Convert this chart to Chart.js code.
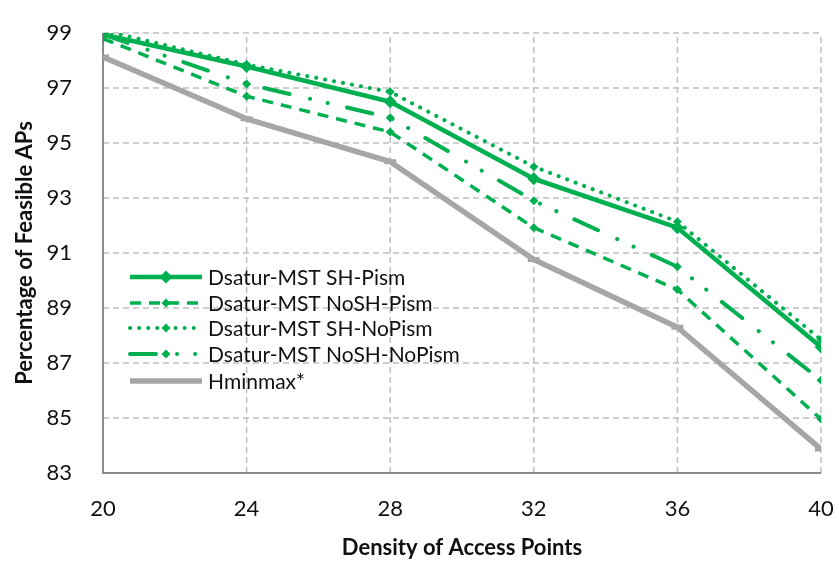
<!DOCTYPE html>
<html>
<head>
<meta charset="utf-8">
<script src="https://cdn.jsdelivr.net/npm/chart.js@4"></script>
<style>
  html, body { margin: 0; padding: 0; background: #ffffff; }
  #wrap { width: 839px; height: 567px; }
</style>
</head>
<body>
<div id="wrap"><canvas id="c" width="839" height="567"></canvas></div>
<script>
// Access-point density on the x axis
const densities = [20, 24, 28, 32, 36, 40];

// Percentage of feasible APs for each method
const shPism      = [98.95, 97.78, 96.50, 93.70, 91.92, 87.58];
const noshPism    = [98.80, 96.70, 95.40, 91.92, 89.67, 84.96];
const shNoPism    = [99.10, 97.85, 96.86, 94.14, 92.14, 87.85];
const noshNoPism  = [98.95, 97.15, 95.92, 92.90, 90.50, 86.37];
const hminmax     = [98.13, 95.88, 94.32, 90.76, 88.30, 83.87];

const seriesNames = [
  'Dsatur-MST SH-Pism',
  'Dsatur-MST NoSH-Pism',
  'Dsatur-MST SH-NoPism',
  'Dsatur-MST NoSH-NoPism',
  'Hminmax*'
];

// Axis ticks
const xTicks = [20, 24, 28, 32, 36, 40];
const yTicks = [83, 85, 87, 89, 91, 93, 95, 97, 99];

const GREEN = '#00B050';
const GREY = '#A6A6A6';
const FONT = 'Lato, "Open Sans", sans-serif';
const TEXT = '#111111';
const GRID_DASH = [6, 4];

const toPoints = vals => vals.map((v, i) => ({ x: densities[i], y: v }));

const datasets = [
  {
    label: seriesNames[0], data: toPoints(shPism),
    borderColor: GREEN, backgroundColor: GREEN, borderWidth: 4.5,
    pointStyle: 'rectRot', pointRadius: 6.5, pointBorderWidth: 0, borderDash: [],
    borderCapStyle: 'butt'
  },
  {
    label: seriesNames[1], data: toPoints(noshPism),
    borderColor: GREEN, backgroundColor: GREEN, borderWidth: 3.5,
    pointStyle: 'rectRot', pointRadius: 4.5, pointBorderWidth: 0, borderDash: [11, 8],
    borderCapStyle: 'butt'
  },
  {
    label: seriesNames[2], data: toPoints(shNoPism),
    borderColor: GREEN, backgroundColor: GREEN, borderWidth: 4,
    pointStyle: 'rectRot', pointRadius: 4.5, pointBorderWidth: 0, borderDash: [0.1, 9],
    borderCapStyle: 'round'
  },
  {
    label: seriesNames[3], data: toPoints(noshNoPism),
    borderColor: GREEN, backgroundColor: GREEN, borderWidth: 4,
    pointStyle: 'rectRot', pointRadius: 4.5, pointBorderWidth: 0,
    borderDash: [26, 21, 0.1, 18, 0.1, 19.8],
    borderCapStyle: 'round'
  },
  {
    label: seriesNames[4], data: toPoints(hminmax),
    borderColor: GREY, backgroundColor: GREY, borderWidth: 5.5,
    pointStyle: 'line', pointRadius: 6, pointBorderWidth: 5, borderDash: [],
    borderCapStyle: 'butt'
  }
];
datasets.forEach(d => {
  d.tension = 0;
  d.pointHoverRadius = d.pointRadius;
  d.borderJoinStyle = 'round';
});

// Dashed plot grid, drawn behind the series from each scale's own tick positions
const dashedGrid = {
  id: 'dashedGrid',
  beforeDatasetsDraw(chart) {
    const { ctx, chartArea: a, scales: { x, y } } = chart;
    ctx.save();
    ctx.strokeStyle = '#BFBFBF';
    ctx.lineWidth = 1.5;
    ctx.setLineDash(GRID_DASH);
    x.ticks.forEach(t => {
      const px = x.getPixelForValue(t.value);
      ctx.beginPath();
      ctx.moveTo(px, a.bottom);
      ctx.lineTo(px, a.top);
      ctx.stroke();
    });
    y.ticks.forEach(t => {
      const py = y.getPixelForValue(t.value);
      ctx.beginPath();
      ctx.moveTo(a.left, py);
      ctx.lineTo(a.right, py);
      ctx.stroke();
    });
    // solid axis lines on the left and bottom
    ctx.setLineDash([]);
    ctx.strokeStyle = '#8C8C8C';
    ctx.lineWidth = 2;
    ctx.beginPath();
    ctx.moveTo(a.left, a.top);
    ctx.lineTo(a.left, a.bottom);
    ctx.lineTo(a.right, a.bottom);
    ctx.stroke();
    ctx.restore();
  }
};

// Legend drawn inside the plot: line sample with a marker, then the name
const innerLegend = {
  id: 'innerLegend',
  afterDatasetsDraw(chart) {
    const ctx = chart.ctx;
    const x0 = 130, x1 = 202, tx = 208;
    const rows = [277, 303, 328, 354, 381];
    ctx.save();
    chart.data.datasets.forEach((ds, i) => {
      const y = rows[i];
      ctx.strokeStyle = ds.borderColor;
      ctx.lineWidth = ds.borderWidth;
      ctx.lineCap = ds.borderCapStyle;
      ctx.setLineDash(ds.borderDash || []);
      ctx.beginPath();
      ctx.moveTo(x0, y);
      ctx.lineTo(x1, y);
      ctx.stroke();
      ctx.setLineDash([]);
      if (ds.pointStyle === 'rectRot') {
        const r = ds.pointRadius;
        const cx = (x0 + x1) / 2;
        ctx.fillStyle = ds.backgroundColor;
        ctx.beginPath();
        ctx.moveTo(cx, y - r);
        ctx.lineTo(cx + r, y);
        ctx.lineTo(cx, y + r);
        ctx.lineTo(cx - r, y);
        ctx.closePath();
        ctx.fill();
      }
      ctx.fillStyle = TEXT;
      ctx.font = '21px ' + FONT;
      ctx.textBaseline = 'middle';
      ctx.textAlign = 'left';
      ctx.fillText(ds.label, tx, y + 1);
    });
    ctx.restore();
  }
};

// Built-in grid lines are hidden; invisible tick marks only space the labels
const hiddenGrid = {
  display: true, drawOnChartArea: false, drawTicks: true,
  color: 'rgba(0,0,0,0)', tickColor: 'rgba(0,0,0,0)'
};

new Chart(document.getElementById('c'), {
  type: 'line',
  data: { datasets },
  plugins: [dashedGrid, innerLegend],
  options: {
    responsive: false,
    animation: false,
    devicePixelRatio: 1,
    layout: { padding: { top: 33, right: 18, left: 0, bottom: 0 } },
    plugins: {
      legend: { display: false },
      tooltip: { enabled: false }
    },
    scales: {
      x: {
        type: 'linear',
        min: 20, max: 40,
        afterBuildTicks: s => { s.ticks = xTicks.map(v => ({ value: v })); },
        afterFit: s => { s.height = 94; },
        grid: Object.assign({}, hiddenGrid, { tickLength: 23 }),
        border: { display: false },
        ticks: {
          padding: 0, color: TEXT,
          font: { family: FONT, size: 22 },
          maxRotation: 0, autoSkip: false
        },
        title: {
          display: true, text: 'Density of Access Points', color: TEXT,
          font: { family: FONT, size: 22, weight: 'bold' },
          padding: { top: 0, bottom: 6 }
        }
      },
      y: {
        min: 83, max: 99,
        afterBuildTicks: s => { s.ticks = yTicks.map(v => ({ value: v })); },
        afterFit: s => { s.width = 103; },
        grid: Object.assign({}, hiddenGrid, { tickLength: 31 }),
        border: { display: false },
        ticks: {
          padding: 0, color: TEXT,
          font: { family: FONT, size: 22 }
        },
        title: {
          display: true, text: 'Percentage of Feasible APs', color: TEXT,
          font: { family: FONT, size: 22, weight: 'bold' },
          padding: { top: 12, bottom: 0 }
        }
      }
    }
  }
});
</script>
</body>
</html>
